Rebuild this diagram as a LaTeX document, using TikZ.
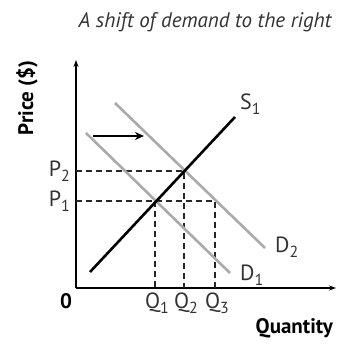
\documentclass[tikz,border=0pt]{standalone}
\usepackage{fontspec}
\setmainfont{PT Sans}
\usetikzlibrary{arrows.meta}
\definecolor{dgray}{HTML}{AAAAAA}
\definecolor{txt}{HTML}{333333}
\newcommand{\lsub}[1]{\raisebox{-5pt}{\fontsize{16}{18}\selectfont #1}}
\begin{document}
\begin{tikzpicture}[x=1pt,y=-1pt,
  axis/.style={line width=1.4pt,-{Stealth[length=7pt,width=5pt]}},
  supply/.style={line width=2.6pt,black},
  demand/.style={line width=2.6pt,dgray},
  guide/.style={line width=1.2pt,dash pattern=on 6pt off 4pt,black!85},
  lbl/.style={inner sep=0pt,text=txt,font=\fontsize{22}{24}\selectfont},
  axlbl/.style={inner sep=0pt,text=black,font=\bfseries\fontsize{21}{24}\selectfont}]
\useasboundingbox (0,0) rectangle (340,345);
% title
\node[inner sep=0pt,text=txt,font=\itshape\fontsize{21}{23}\selectfont] (title) at (205,22) {A shift of demand to the right};
% axes
\coordinate (O) at (76,288);
\coordinate (ytop) at (76,60);
\coordinate (xend) at (336,288);
\draw[axis] (O) -- (ytop);
\draw[axis] (O) -- (xend);
% key points
\coordinate (E1) at (155,201);
\coordinate (E2) at (184,171);
\coordinate (E3) at (215,201);
\coordinate (P1a) at (76,201);
\coordinate (P2a) at (76,171);
\coordinate (Q1a) at (155,288);
\coordinate (Q2a) at (184,288);
\coordinate (Q3a) at (215,288);
% guides
\draw[guide] (P2a) -- (E2) -- (Q2a);
\draw[guide] (P1a) -- (E3) -- (Q3a);
\draw[guide] (E1) -- (Q1a);
% demand curves
\coordinate (D1s) at (86,133);
\coordinate (D1e) at (230,273);
\coordinate (D2s) at (115,103);
\coordinate (D2e) at (265,248);
\draw[demand] (D1s) -- (D1e);
\draw[demand] (D2s) -- (D2e);
% supply
\coordinate (Ss) at (90,272);
\coordinate (Se) at (235,117);
\draw[supply] (Ss) -- (Se);
% shift arrow
\coordinate (As) at (93,136);
\coordinate (Ae) at (144,136);
\draw[line width=1.8pt,-{Stealth[length=9pt,width=8pt]}] (As) -- (Ae);
% labels
\node[lbl,anchor=base east] (P2) at (70,176) {P\lsub{2}};
\node[lbl,anchor=base east] (P1) at (70,206) {P\lsub{1}};
\node[lbl,anchor=base] (Q1) at (157,308) {Q\lsub{1}};
\node[lbl,anchor=base] (Q2) at (186,308) {Q\lsub{2}};
\node[lbl,anchor=base] (Q3) at (217,308) {Q\lsub{3}};
\node[lbl,anchor=base west] (S1) at (240,109) {S\lsub{1}};
\node[lbl,anchor=base west] (D1) at (240,280) {D\lsub{1}};
\node[lbl,anchor=base west] (D2) at (275,252) {D\lsub{2}};
\node[axlbl] (zero) at (66,301) {0};
\node[axlbl,anchor=base east] (qty) at (333,333) {Quantity};
\node[axlbl,rotate=90] (price) at (27,98) {Price (\$)};
\end{tikzpicture}
\end{document}
